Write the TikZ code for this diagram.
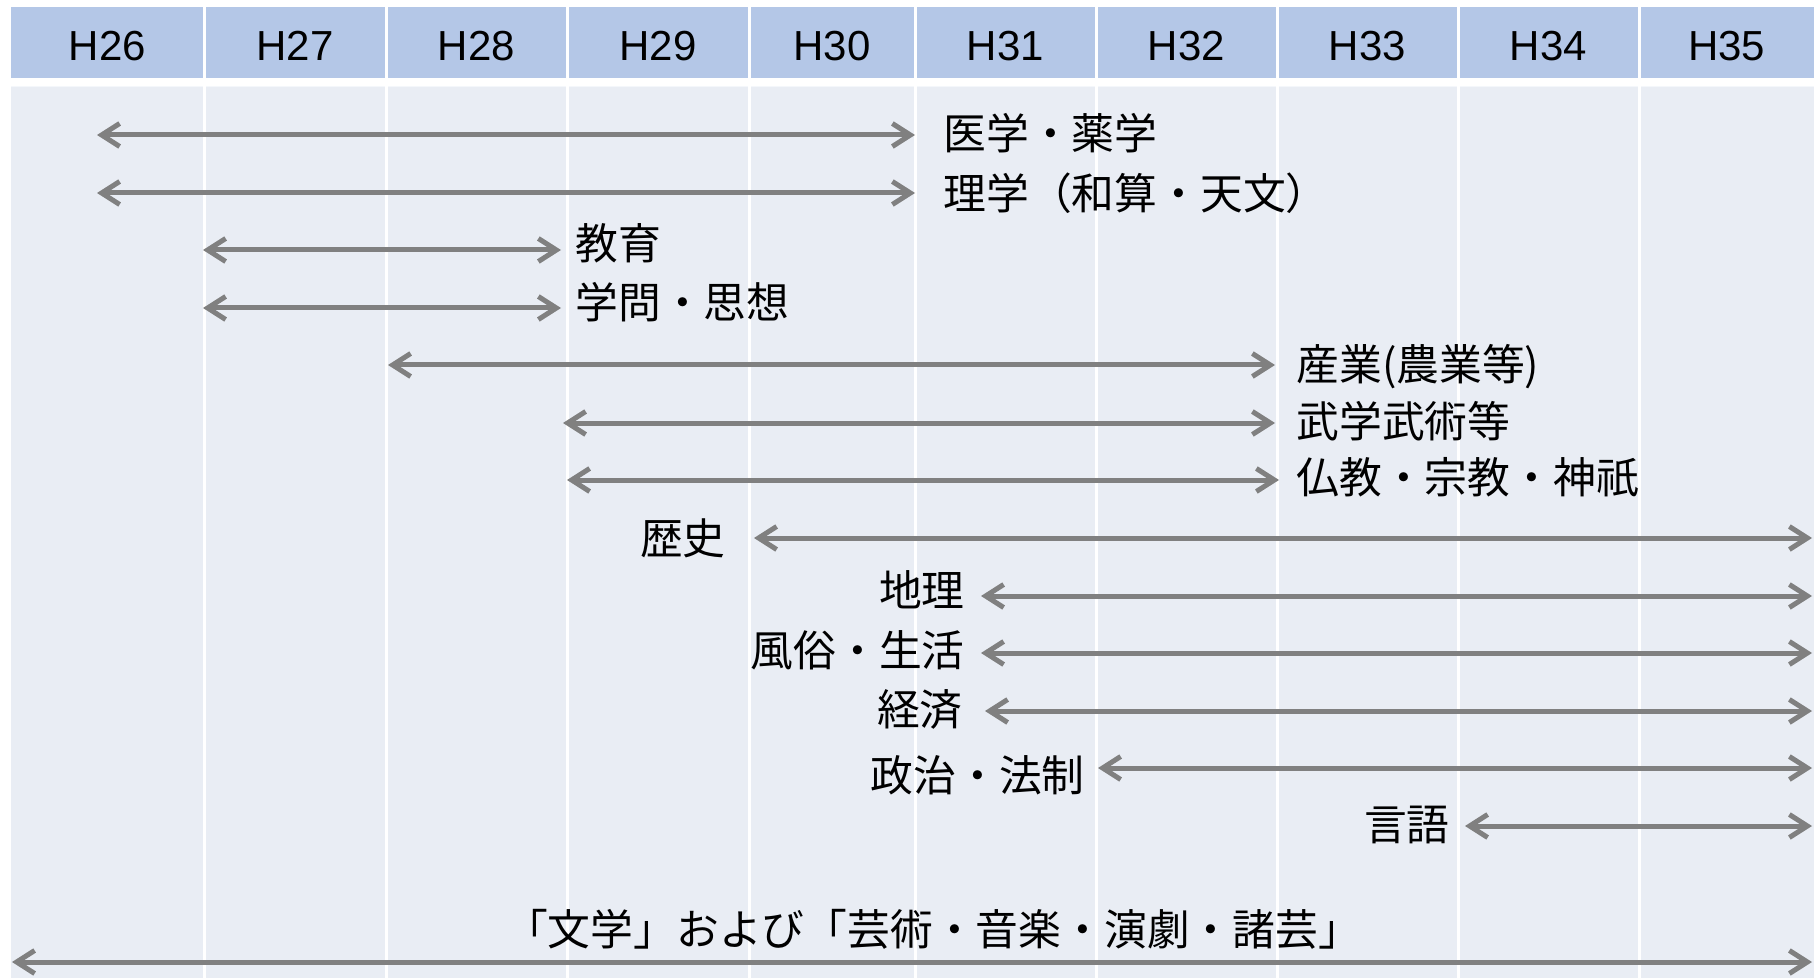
\documentclass[tikz,border=0pt]{standalone}
\usepackage{fontspec}
\setmainfont{Noto Sans CJK JP}
\newfontfamily\hdrfont{Liberation Sans}
\usetikzlibrary{arrows.meta}
\definecolor{hdrblue}{HTML}{B4C7E7}
\definecolor{bodyblue}{HTML}{E9EDF4}
\definecolor{arrgray}{HTML}{808080}
\begin{document}
\begin{tikzpicture}[x=0.5pt,y=-0.5pt,
  hdr/.style={font=\hdrfont\fontsize{21}{24}\selectfont, inner sep=0pt, anchor=center},
  lbl/.style={font=\fontsize{21.4}{25}\selectfont, inner sep=0pt},
  span/.style={draw=arrgray, line width=2.5pt,
    {Straight Barb[length=9pt,width=11.5pt]}-{Straight Barb[length=9pt,width=11.5pt]}},
  sep/.style={draw=white, line width=1.5pt}]
\useasboundingbox (0,0) rectangle (1814,978);
\fill[white] (0,0) rectangle (1814,978);
% header and body
\fill[hdrblue] (11,7) rectangle (1814,78);
\fill[bodyblue] (11,86) rectangle (1814,978);
\draw[draw=white!85!hdrblue, line width=0.6pt] (11,86.3) -- (1814,86.3);
\foreach \x in {204,386,567,749,915,1096,1277,1458,1639}
  \draw[sep] (\x,7) -- (\x,978);
% header labels
\node[hdr] (h26) at (107.5,46) {H26};
\node[hdr] (h27) at (295,46) {H27};
\node[hdr] (h28) at (476.5,46) {H28};
\node[hdr] (h29) at (658,46) {H29};
\node[hdr] (h30) at (832,46) {H30};
\node[hdr] (h31) at (1005.5,46) {H31};
\node[hdr] (h32) at (1186.5,46) {H32};
\node[hdr] (h33) at (1367.5,46) {H33};
\node[hdr] (h34) at (1548.5,46) {H34};
\node[hdr] (h35) at (1726.5,46) {H35};
% arrow end points
\coordinate (a1L) at (97,135);   \coordinate (a1R) at (915,135);
\coordinate (a2L) at (97,193);   \coordinate (a2R) at (915,193);
\coordinate (a3L) at (203,250);  \coordinate (a3R) at (561,250);
\coordinate (a4L) at (203,308);  \coordinate (a4R) at (561,308);
\coordinate (a5L) at (388,365);  \coordinate (a5R) at (1275,365);
\coordinate (a6L) at (563,423);  \coordinate (a6R) at (1275,423);
\coordinate (a7L) at (567,480);  \coordinate (a7R) at (1279,480);
\coordinate (a8L) at (754,538);  \coordinate (a8R) at (1812,538);
\coordinate (a9L) at (981,596);  \coordinate (a9R) at (1812,596);
\coordinate (a10L) at (981,653); \coordinate (a10R) at (1812,653);
\coordinate (a11L) at (985,711); \coordinate (a11R) at (1812,711);
\coordinate (a12L) at (1098,768);\coordinate (a12R) at (1812,768);
\coordinate (a13L) at (1465,826);\coordinate (a13R) at (1812,826);
\coordinate (a14L) at (12,962);  \coordinate (a14R) at (1812,962);
\foreach \i in {1,...,14} \draw[span] (a\i L) -- (a\i R);
% labels
\node[lbl, anchor=west] (l1) at (943,133) {医学・薬学};
\node[lbl, anchor=west] (l2) at (943,193) {理学（和算・天文）};
\node[lbl, anchor=west] (l3) at (575,243) {教育};
\node[lbl, anchor=west] (l4) at (575,302) {学問・思想};
\node[lbl, anchor=west] (l5) at (1296,367) {産業(農業等)};
\node[lbl, anchor=west] (l6) at (1296,421) {武学武術等};
\node[lbl, anchor=west] (l7) at (1296,477) {仏教・宗教・神祇};
\node[lbl, anchor=east] (l8) at (726,538) {歴史};
\node[lbl, anchor=east] (l9) at (965,590) {地理};
\node[lbl, anchor=east] (l10) at (965,650) {風俗・生活};
\node[lbl, anchor=east] (l11) at (963,709) {経済};
\node[lbl, anchor=east] (l12) at (1085,775) {政治・法制};
\node[lbl, anchor=east] (l13) at (1450,825) {言語};
\node[lbl, anchor=center] (l14) at (933,929) {「文学」および「芸術・音楽・演劇・諸芸」};
\end{tikzpicture}
\end{document}
